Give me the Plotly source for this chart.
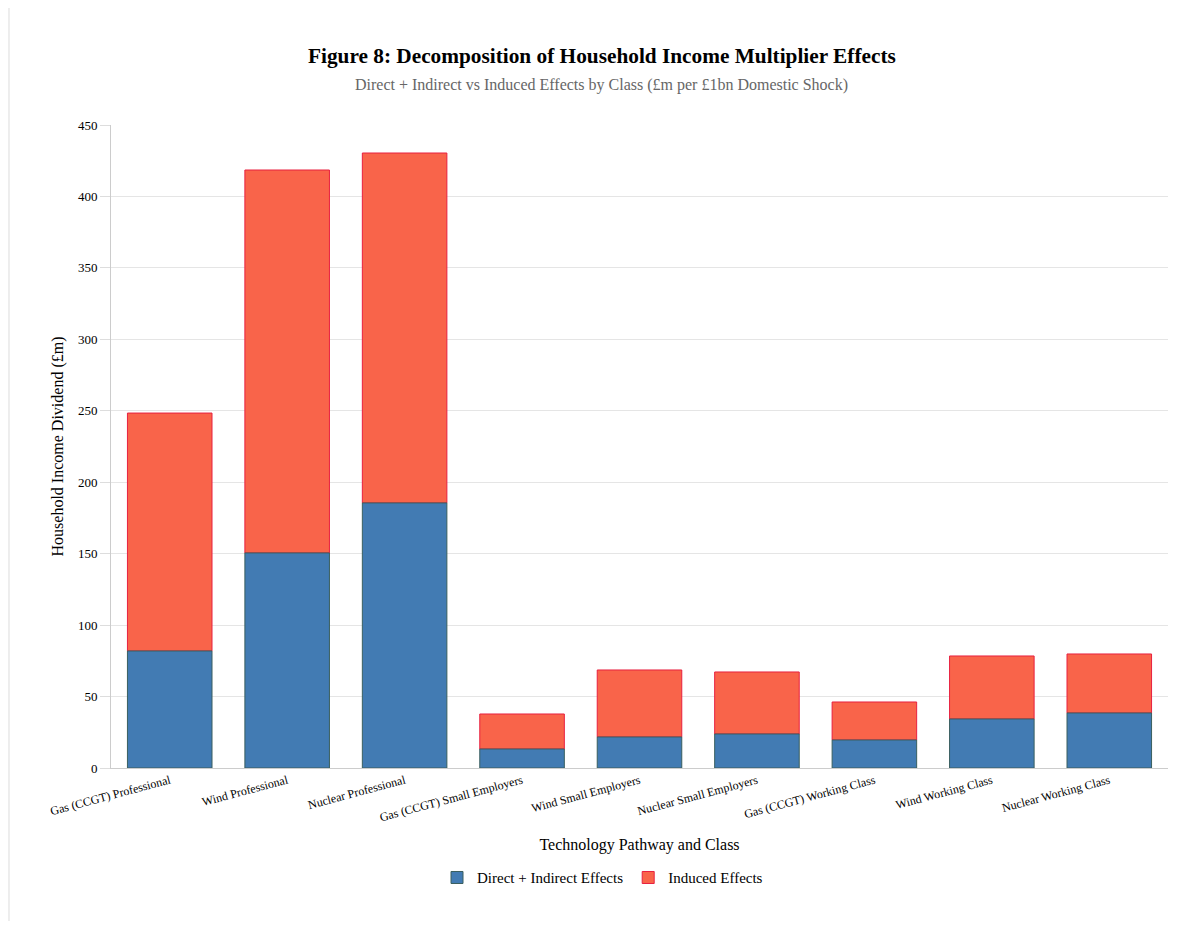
import plotly.graph_objects as go

categories = ["Gas (CCGT) Professional", "Wind Professional", "Nuclear Professional",
              "Gas (CCGT) Small Employers", "Wind Small Employers", "Nuclear Small Employers",
              "Gas (CCGT) Working Class", "Wind Working Class", "Nuclear Working Class"]
direct_indirect = [81.9, 150.5, 185.5, 13.3, 21.7, 23.8, 19.6, 34.3, 38.5]
induced = [166.5, 268.0, 244.9, 24.5, 46.9, 43.4, 26.6, 44.1, 41.3]

FONT = "Liberation Serif, Times New Roman, serif"

fig = go.Figure()
# induced stacked on top of direct+indirect (drawn first so the blue outline shows at the seam)
fig.add_trace(go.Bar(x=categories, y=induced, base=direct_indirect, name="Induced Effects",
                     legendrank=2,
                     marker=dict(color="#f9644a", line=dict(color="#e8203f", width=1))))
fig.add_trace(go.Bar(x=categories, y=direct_indirect, name="Direct + Indirect Effects",
                     legendrank=1,
                     marker=dict(color="#427bb3", line=dict(color="#3a5f5f", width=1))))

fig.update_layout(
    barmode="overlay", bargap=0.28,
    width=1180, height=913,
    margin=dict(l=103, r=20, t=117, b=153),
    paper_bgcolor="white", plot_bgcolor="white",
    font=dict(family=FONT, color="#000"),
    showlegend=True,
    legend=dict(orientation="h", x=0.465, xanchor="center", y=-0.145, yanchor="top",
                font=dict(size=15, family=FONT)),
    annotations=[
        dict(text="<b>Figure 8: Decomposition of Household Income Multiplier Effects</b>",
             xref="paper", yref="paper", x=0.4645, y=1.0, yshift=83, showarrow=False,
             font=dict(size=21.3, family=FONT, color="#000")),
        dict(text="Direct + Indirect vs Induced Effects by Class (£m per £1bn Domestic Shock)",
             xref="paper", yref="paper", x=0.4645, y=1.0, yshift=51, showarrow=False,
             font=dict(size=16, family=FONT, color="#666")),
    ],
    shapes=[dict(type="line", xref="paper", yref="paper", x0=-0.0965, x1=-0.0965, y0=-0.3, y1=1.2,
                 line=dict(color="#ddd", width=1))],
)
fig.update_xaxes(showline=True, linecolor="#ccc", tickangle=-15, ticks="",
                 tickfont=dict(size=12, family=FONT),
                 title=dict(text="Technology Pathway and Class", font=dict(size=16, family=FONT), standoff=15))
fig.update_yaxes(range=[0, 450], dtick=50, showgrid=True, gridcolor="#e5e5e5",
                 showline=True, linecolor="#ccc", ticks="outside", ticklen=10, tickcolor="#ddd",
                 zeroline=False, tickfont=dict(size=13, family=FONT),
                 title=dict(text="Household Income Dividend (£m)", font=dict(size=16, family=FONT), standoff=10))

fig.write_html("out.html")
